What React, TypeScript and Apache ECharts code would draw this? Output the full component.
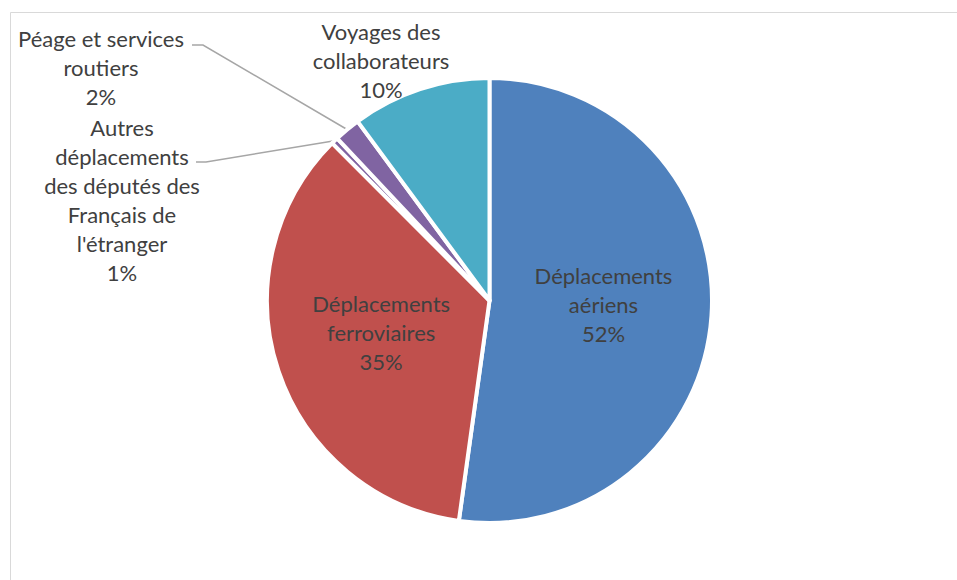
import React, { useEffect, useRef } from "react";
import * as echarts from "echarts";

const categories = [
  "Déplacements\naériens",
  "Déplacements\nferroviaires",
  "Autres\ndéplacements\ndes députés des\nFrançais de\nl'étranger",
  "Péage et services\nroutiers",
  "Voyages des\ncollaborateurs",
];
const shares = [52.2, 35.3, 0.5, 1.9, 10.1];
const colors = ["#4F81BD", "#C0504D", "#8064A2", "#8064A2", "#4BACC6"];
const outsideLabels = [false, false, true, true, true];
const showLeader = [false, false, true, true, false];

export default function App() {
  const ref = useRef<HTMLDivElement>(null);
  useEffect(() => {
    if (!ref.current) return;
    const chart = echarts.init(ref.current, undefined, { renderer: "svg" });
    const font = "Lato, 'Noto Sans', sans-serif";
    chart.setOption({
      animation: false,
      backgroundColor: "#ffffff",
      graphic: [
        {
          type: "rect",
          shape: { x: 10.5, y: 12.5, width: 960, height: 620 },
          style: { fill: "none", stroke: "#d9d9d9", lineWidth: 1 },
          silent: true,
        },
      ],
      series: [
        {
          type: "pie",
          center: [489.5, 300.5],
          radius: 222.5,
          startAngle: 90,
          clockwise: true,
          avoidLabelOverlap: false,
          itemStyle: { borderColor: "#ffffff", borderWidth: 4 },
          label: {
            color: "#404040",
            fontFamily: font,
            fontSize: 22,
            lineHeight: 29,
            align: "center",
            formatter: (p: any) => `${p.name}\n${Math.round(p.percent)}%`,
          },
          labelLine: {
            lineStyle: { color: "#a6a6a6", width: 1.5 },
          },
          labelLayout: (p: any) => {
            const i = p.dataIndex;
            const anchor = p.labelLinePoints && p.labelLinePoints[0];
            if (i === 2) {
              return {
                x: 122,
                y: 200,
                align: "center",
                verticalAlign: "middle",
                labelLinePoints: [[196, 162], [206, 162], anchor || [336, 142]],
              };
            }
            if (i === 3) {
              return {
                x: 101,
                y: 67,
                align: "center",
                verticalAlign: "middle",
                labelLinePoints: [[192, 45], [203, 45], anchor || [344, 131]],
              };
            }
            if (i === 4) {
              return { x: 381, y: 60, align: "center", verticalAlign: "middle" };
            }
            return { dy: -4 };
          },
          data: categories.map((name, i) => ({
            name,
            value: shares[i],
            itemStyle: { color: colors[i] },
            label: { position: outsideLabels[i] ? "outside" : "inside" },
            labelLine: { show: showLeader[i] },
          })),
        },
      ],
    });
    return () => chart.dispose();
  }, []);
  return (
    <div
      ref={ref}
      style={{ position: "fixed", left: 0, top: 0, width: 957, height: 580 }}
    />
  );
}
